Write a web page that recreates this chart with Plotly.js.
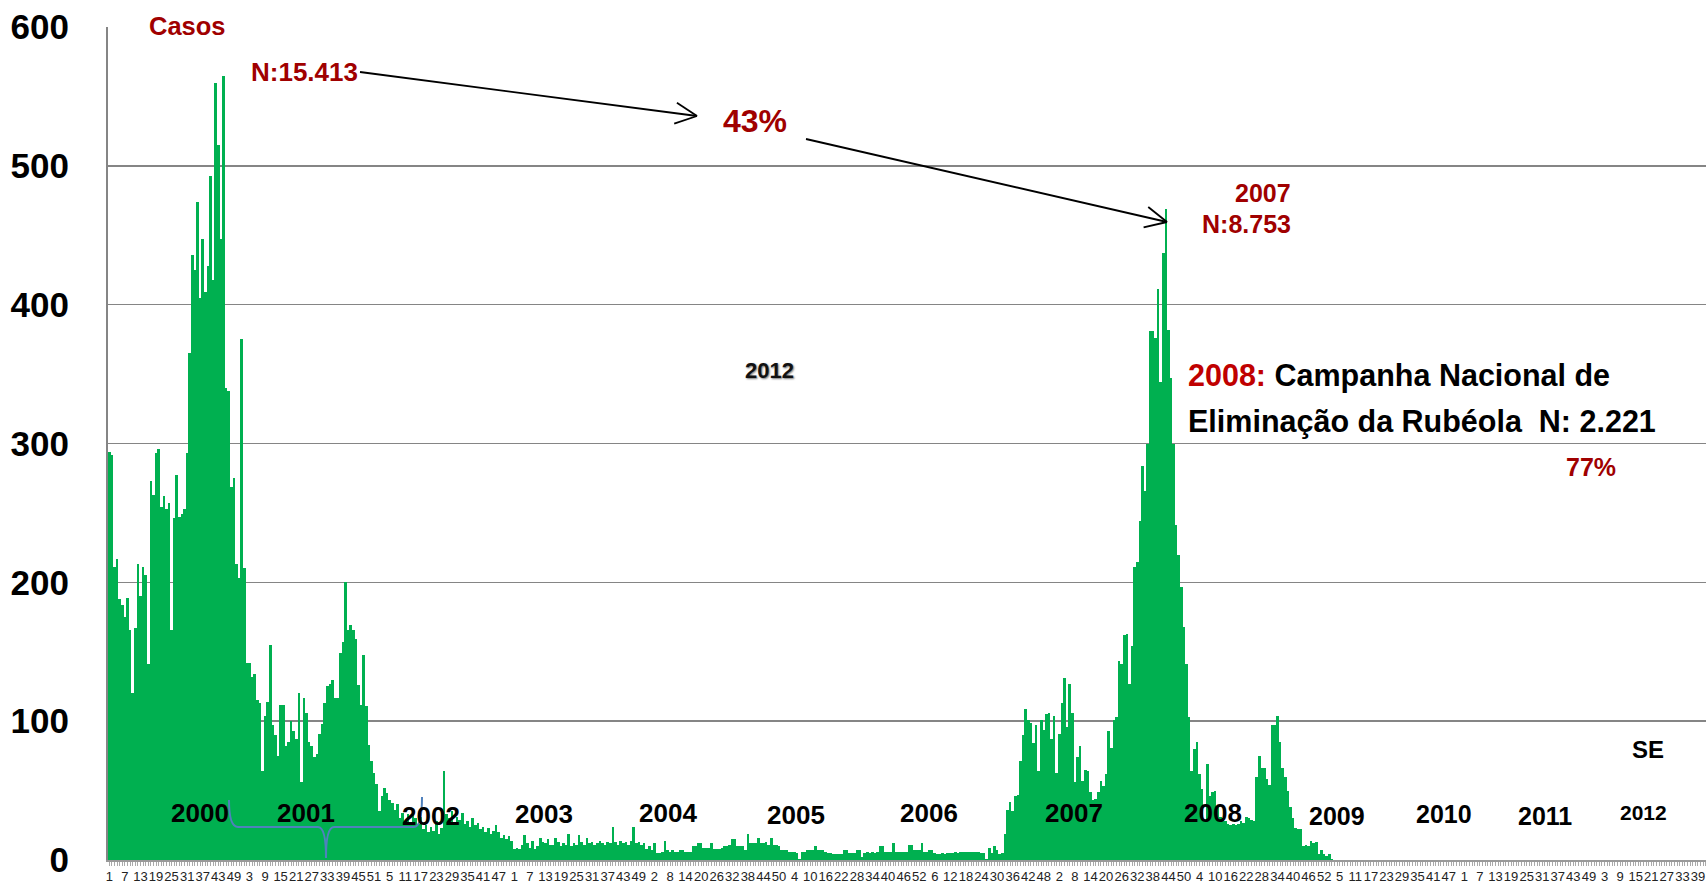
<!DOCTYPE html>
<html>
<head>
<meta charset="utf-8">
<script src="https://cdn.plot.ly/plotly-3.0.1.min.js"></script>
<style>html,body{margin:0;padding:0;background:#fff;}#chart{width:1706px;height:883px;}</style>
</head>
<body>
<div id="chart"></div>
<script>
// ---- data: weekly rubella cases (SE = semana epidemiológica) ----
const years = [2000, 2001, 2002, 2003, 2004, 2005, 2006, 2007, 2008, 2009, 2010, 2011];
const weeksPerYear = [52, 52, 52, 53, 52, 52, 52, 52, 53, 52, 52, 52];

const y2000 = [294, 292, 211, 217, 188, 184, 175, 189, 166, 120, 167, 213, 190, 211, 205, 141, 273, 263, 293, 296,
  254, 262, 253, 257, 166, 246, 277, 247, 249, 253, 293, 365, 436, 425, 474, 405, 447, 409, 428, 493,
  418, 560, 515, 447, 565, 340, 338, 269, 275, 213, 203, 375];
const y2001 = [210, 142, 142, 132, 134, 115, 113, 64, 104, 114, 155, 97, 90, 75, 112, 112, 82, 85, 100, 93,
  87, 120, 56, 117, 106, 85, 82, 74, 76, 91, 98, 113, 125, 127, 130, 117, 117, 149, 157, 200,
  166, 169, 166, 159, 126, 112, 148, 111, 83, 71, 63, 55];
const y2002 = [35, 46, 52, 48, 43, 41, 36, 40, 30, 34, 28, 33, 27, 35, 30, 26, 31, 22, 25, 20,
  24, 21, 28, 19, 23, 64, 33, 30, 35, 27, 31, 29, 34, 26, 28, 24, 30, 25, 27, 22,
  24, 20, 23, 19, 21, 25, 20, 16, 18, 15, 17, 14];
const y2003 = [8, 9, 8, 11, 18, 12, 9, 14, 8, 10, 16, 13, 12, 15, 11, 11, 16, 13, 10, 12,
  11, 19, 10, 12, 11, 18, 13, 11, 16, 12, 13, 11, 12, 14, 12, 11, 13, 12, 24, 13,
  11, 14, 12, 13, 11, 14, 24, 12, 13, 11, 12, 8, 10];
const y2004 = [7, 12, 5, 5, 6, 14, 7, 6, 7, 6, 6, 7, 7, 6, 6, 6, 10, 10, 12, 12,
  9, 9, 9, 12, 8, 8, 8, 9, 10, 10, 11, 15, 15, 10, 10, 10, 7, 19, 12, 12,
  12, 16, 12, 12, 13, 11, 16, 11, 11, 10, 7, 7];
const y2005 = [7, 6, 6, 6, 5, 1, 6, 6, 7, 7, 7, 10, 7, 7, 7, 6, 5, 5, 4, 4,
  4, 4, 7, 7, 5, 5, 5, 7, 7, 2, 5, 6, 5, 6, 5, 6, 10, 10, 6, 6,
  6, 12, 6, 6, 6, 6, 6, 11, 11, 7, 7, 7];
const y2006 = [12, 6, 6, 7, 7, 5, 4, 4, 5, 4, 5, 5, 5, 6, 5, 6, 6, 6, 6, 6,
  6, 6, 6, 5, 5, 1, 9, 5, 10, 7, 4, 5, 19, 36, 42, 35, 46, 47, 71, 90,
  109, 101, 99, 84, 97, 64, 101, 94, 105, 106, 87, 104];
const y2007 = [63, 91, 113, 131, 96, 127, 106, 56, 74, 82, 57, 65, 64, 49, 43, 44, 49, 57, 53, 62,
  93, 81, 101, 103, 143, 141, 162, 163, 127, 154, 211, 215, 244, 284, 266, 300, 381, 381, 376, 411,
  344, 437, 469, 382, 347, 300, 241, 220, 197, 168, 141, 103];
const y2008 = [64, 80, 85, 62, 51, 29, 69, 46, 49, 50, 38, 31, 30, 28, 26, 25, 26, 25, 26, 28,
  27, 31, 30, 29, 28, 60, 75, 66, 66, 58, 54, 97, 97, 104, 85, 66, 60, 50, 38, 30,
  23, 22, 22, 10, 11, 10, 14, 12, 13, 4, 7, 4, 3];
const y2009 = [4, 1, 0, 0, 0, 0, 0, 0, 0, 0, 0, 0, 0, 0, 0, 0, 0, 0, 0, 0,
  0, 0, 0, 0, 0, 0, 0, 0, 0, 0, 0, 0, 0, 0, 0, 0, 0, 0, 0, 0,
  0, 0, 0, 0, 0, 0, 0, 0, 0, 0, 0, 0];

const yearLabels = ['2000', '2001', '2002', '2003', '2004', '2005', '2006', '2007', '2008', '2009', '2010', '2011', '2012'];
const yTicks = [0, 100, 200, 300, 400, 500, 600];

// ---- build series ----
const cases = [].concat(y2000, y2001, y2002, y2003, y2004, y2005, y2006, y2007, y2008, y2009);
const xIdx = cases.map((_, i) => i);

const weekOfIndex = [];
weeksPerYear.forEach(n => { for (let w = 1; w <= n; w++) weekOfIndex.push(w); });
const tickvals = [], ticktext = [];
weekOfIndex.forEach((w, i) => { if (i % 6 === 0) { tickvals.push(i); ticktext.push(String(w)); } });

// ---- pixel helpers for annotations (plot area) ----
const PL = 108, PR = 1706, PT = 27, PB = 860;
const fx = X => (X - PL) / (PR - PL);
const fy = Y => (PB - Y) / (PB - PT);

const NARROW = '"Liberation Sans Narrow", "Arial Narrow", "Liberation Sans", Arial, sans-serif';
const RED = '#a00000';

function txt(text, X, Y, size, color, xanchor, extra) {
  return Object.assign({
    text: text, xref: 'paper', yref: 'paper', x: fx(X), y: fy(Y),
    xanchor: xanchor || 'center', yanchor: 'middle', showarrow: false,
    font: {family: NARROW, size: size, color: color, weight: 'bold'}
  }, extra || {});
}

const yearPos = [[200, 813, 26], [306, 813, 26], [431, 816, 26], [544, 814, 26], [668, 813, 26], [796, 815, 26],
  [929, 813, 26], [1074, 813, 26], [1213, 813, 26], [1337, 816, 25], [1444, 814, 25], [1545, 816, 25], [1643, 812, 21]];

const annotations = [
  txt('Casos', 187, 26, 25.5, RED),
  txt('N:15.413', 304, 72, 26, RED),
  txt('43%', 755, 121, 32, RED),
  txt('2007', 1293, 193, 25, RED, 'right'),
  txt('N:8.753', 1293, 224, 25, RED, 'right'),
  txt('2012', 769, 370, 23, '#111', 'center', {font: {family: '"Liberation Sans", Arial, sans-serif', size: 22, color: '#111', weight: 'bold', shadow: '1px 1px 2px #777'}}),
  txt('<span style="color:#c00000">2008:</span> Campanha Nacional de', 1186, 375, 30.5, '#000', 'left'),
  txt('Eliminação da Rubéola\u00a0\u00a0N: 2.221', 1186, 421, 30.5, '#000', 'left'),
  txt('77%', 1591, 467, 25, RED),
  txt('SE', 1648, 749, 24, '#000')
];
yearLabels.forEach((t, i) => annotations.push(txt(t, yearPos[i][0], yearPos[i][1], yearPos[i][2], '#000')));

// arrows as thin lines with open V heads
function arrow(x0, y0, x1, y1) {
  const a = Math.atan2(y1 - y0, x1 - x0), L = 24, spread = 0.45;
  const ln = (ax, ay, bx, by) => ({type: 'line', xref: 'paper', yref: 'paper', x0: fx(ax), y0: fy(ay), x1: fx(bx), y1: fy(by),
    line: {color: '#000', width: 1.8}, layer: 'above'});
  return [
    ln(x0, y0, x1, y1),
    ln(x1, y1, x1 - L * Math.cos(a - spread), y1 - L * Math.sin(a - spread)),
    ln(x1, y1, x1 - L * Math.cos(a + spread), y1 - L * Math.sin(a + spread))
  ];
}

// blue brace under 2000-2001
const P = (X, Y) => fx(X).toFixed(5) + ',' + fy(Y).toFixed(5);
const bracePath = 'M' + P(229, 800) + ' Q' + P(229, 827) + ' ' + P(238, 827) + ' L' + P(318, 827) +
  ' Q' + P(326, 827) + ' ' + P(326, 858) + ' Q' + P(326, 827) + ' ' + P(334, 827) + ' L' + P(414, 827) +
  ' Q' + P(422, 827) + ' ' + P(422, 797);

const shapes = [{type: 'path', xref: 'paper', yref: 'paper', path: bracePath, line: {color: '#4f81bd', width: 2}, layer: 'above'}]
  .concat(arrow(360, 72, 697, 116), arrow(806, 139, 1167, 222));

const trace = {
  type: 'bar', x: xIdx, y: cases,
  marker: {color: '#00b050', line: {width: 0}},
  hoverinfo: 'x+y'
};

const layout = {
  width: 1706, height: 883,
  margin: {l: PL, r: 1706 - PR, t: PT, b: 883 - PB, pad: 0},
  paper_bgcolor: '#ffffff', plot_bgcolor: '#ffffff',
  bargap: 0,
  showlegend: false,
  xaxis: {
    range: [-0.5, 615.1], tickmode: 'array', tickvals: tickvals, ticktext: ticktext, tickangle: 0,
    tickfont: {family: '"Liberation Sans", Arial, sans-serif', size: 13, color: '#222'},
    ticks: 'outside', ticklen: 4, tickcolor: '#aaa', tickwidth: 1,
    minor: {tickmode: 'linear', tick0: 0, dtick: 1, ticks: 'outside', ticklen: 4, tickcolor: '#aaa', tickwidth: 1, showgrid: false},
    showgrid: false, zeroline: false, showline: true, linecolor: '#999', linewidth: 1.5, fixedrange: true
  },
  yaxis: {
    range: [0, 600], tickmode: 'array', tickvals: yTicks, ticktext: yTicks.map(String),
    tickfont: {family: '"Liberation Sans", Arial, sans-serif', size: 35, color: '#000', weight: 'bold'},
    ticks: '', ticklabelstandoff: 30,
    showgrid: true, gridcolor: '#858585', gridwidth: 1.6,
    zeroline: false, showline: true, linecolor: '#858585', linewidth: 2, fixedrange: true
  },
  annotations: annotations,
  shapes: shapes
};

Plotly.newPlot('chart', [trace], layout, {displayModeBar: false, staticPlot: true});
</script>
</body>
</html>
